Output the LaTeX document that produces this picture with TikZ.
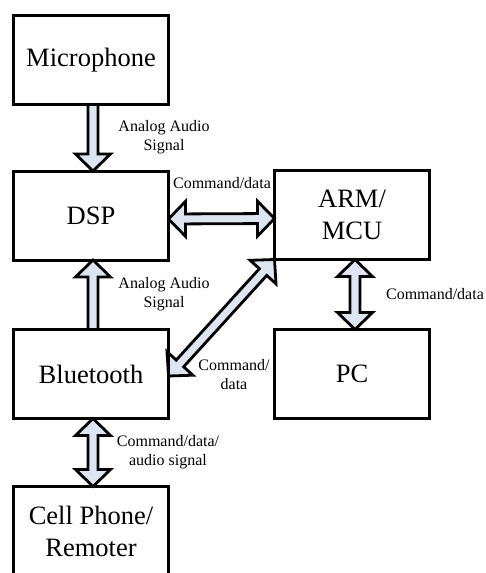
\documentclass[tikz,border=0pt]{standalone}
\usepackage{fontspec}
\setmainfont{Liberation Serif}
\usetikzlibrary{calc}
\pgfdeclarelayer{background}
\pgfsetlayers{background,main}
\definecolor{arrowfill}{RGB}{221,228,242}
% single block arrow from #1 to #2
\newcommand\blkarrow[2]{%
  \coordinate (ba) at #1; \coordinate (bb) at #2;
  \coordinate (bh) at ($(bb)!17pt!(ba)$);
  \filldraw[arrowstyle] ($(ba)!5pt!90:(bb)$) -- ($(bh)!5pt!90:(bb)$) -- ($(bh)!17.5pt!90:(bb)$) -- (bb)
    -- ($(bh)!17.5pt!-90:(bb)$) -- ($(bh)!5pt!-90:(bb)$) -- ($(ba)!5pt!-90:(bb)$) -- cycle;}
% double block arrow between #1 and #2
\newcommand\dblkarrow[2]{%
  \coordinate (ba) at #1; \coordinate (bb) at #2;
  \coordinate (bh) at ($(bb)!17pt!(ba)$);
  \coordinate (bg) at ($(ba)!17pt!(bb)$);
  \filldraw[arrowstyle] (ba) -- ($(bg)!17.5pt!90:(bb)$) -- ($(bg)!5pt!90:(bb)$) -- ($(bh)!5pt!90:(bb)$) -- ($(bh)!17.5pt!90:(bb)$) -- (bb)
    -- ($(bh)!17.5pt!-90:(bb)$) -- ($(bh)!5pt!-90:(bb)$) -- ($(bg)!5pt!-90:(bb)$) -- ($(bg)!17.5pt!-90:(bb)$) -- cycle;}
\begin{document}
\begin{tikzpicture}[x=1pt,y=-1pt,
  box/.style={draw,line width=3pt,minimum width=155pt,minimum height=89pt,inner sep=0pt,outer sep=0pt,align=center,font=\fontsize{26.5}{32}\selectfont},
  lbl/.style={align=center,font=\fontsize{16}{19}\selectfont,inner sep=0pt},
  arrowstyle/.style={draw=black,fill=arrowfill,line width=2.8pt,line join=miter}]
\useasboundingbox (0,0) rectangle (486,573);
\node[box] (mic) at (91,60) {Microphone};
\node[box] (dsp) at (91,215.5) {DSP};
\node[box] (arm) at (352,215) {ARM/\\MCU};
\node[box] (pc) at (352,374) {PC};
\node[box] (bt) at (91,374) {Bluetooth};
\node[box] (cell) at (91,531) {Cell Phone/\\Remoter};
\begin{pgfonlayer}{background}
\blkarrow{($(mic.south)+(2,0)$)}{($(dsp.north)+(2,0)$)}
\blkarrow{($(bt.north)+(2,0)$)}{($(dsp.south)+(2,0)$)}
\dblkarrow{($(dsp.east)+(0,3.5)$)}{($(arm.west)+(0,3.5)$)}
\dblkarrow{($(arm.south)+(3,0)$)}{($(pc.north)+(3,0)$)}
\dblkarrow{($(bt.east)+(0,2)$)}{(arm.south west)}
\dblkarrow{($(bt.south)+(2,0)$)}{($(cell.north)+(2,0)$)}
\end{pgfonlayer}
\node[lbl] (l1) at (164,137) {Analog Audio\\Signal};
\node[lbl] (l2) at (222,183) {Command/data};
\node[lbl] (l3) at (164,294) {Analog Audio\\Signal};
\node[lbl] (l4) at (435,294) {Command/data};
\node[lbl] (l5) at (234,375) {Command/\\data};
\node[lbl] (l6) at (168,452) {Command/data/\\audio signal};
\end{tikzpicture}
\end{document}
